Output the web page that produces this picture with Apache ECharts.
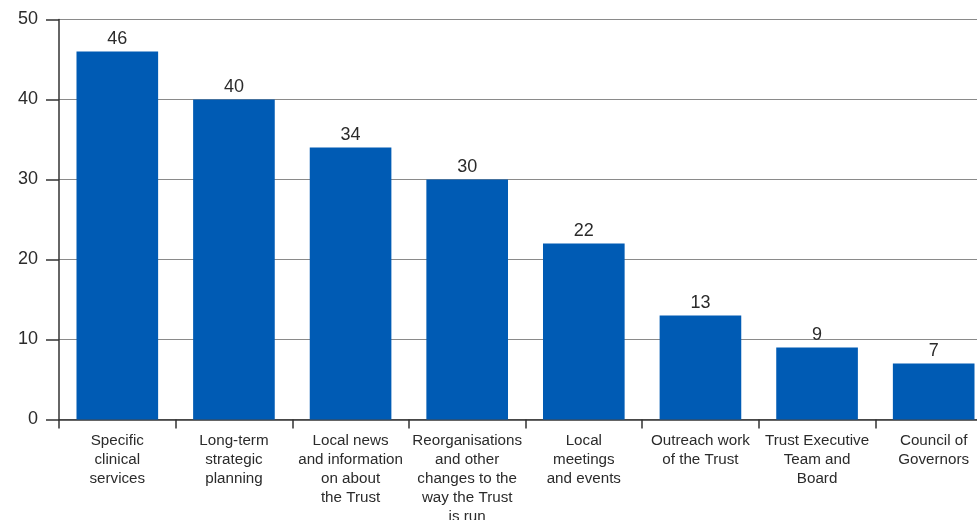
<!DOCTYPE html>
<html>
<head>
<meta charset="utf-8">
<script src="https://cdn.jsdelivr.net/npm/echarts@6/dist/echarts.min.js"></script>
<style>
  html, body { margin: 0; padding: 0; background: #fff; }
  #chart { width: 977px; height: 520px; }
</style>
</head>
<body>
<div id="chart"></div>
<script>
// Topics respondents wanted to hear more about (%)
const categories = [
  "Specific\nclinical\nservices",
  "Long-term\nstrategic\nplanning",
  "Local news\nand information\non about\nthe Trust",
  "Reorganisations\nand other\nchanges to the\nway the Trust\nis run",
  "Local\nmeetings\nand events",
  "Outreach work\nof the Trust",
  "Trust Executive\nTeam and\nBoard",
  "Council of\nGovernors"
];
const values = [46, 40, 34, 30, 22, 13, 9, 7];
const yTicks = { min: 0, max: 50, interval: 10 };

const font = "'Liberation Sans', Arial, Helvetica, sans-serif";
const textColor = "#2b2b2b";

const chart = echarts.init(document.getElementById('chart'), null, { renderer: 'canvas' });
chart.setOption({
  animation: false,
  grid: {
    left: 59, right: -15, top: 19.5, bottom: 100.5,
    containLabel: false,
    outerBoundsMode: 'none'
  },
  xAxis: {
    type: 'category',
    data: categories,
    axisLine: { show: true, lineStyle: { color: '#333', width: 1.5 } },
    axisTick: { show: true, length: 9, lineStyle: { color: '#333', width: 1.5 } },
    axisLabel: {
      interval: 0,
      margin: 12,
      color: textColor,
      fontFamily: font,
      fontSize: 15.2,
      lineHeight: 19,
      align: 'center'
    }
  },
  yAxis: {
    type: 'value',
    min: yTicks.min,
    max: yTicks.max,
    interval: yTicks.interval,
    axisLine: { show: true, lineStyle: { color: '#333', width: 1.5 } },
    axisTick: { show: true, inside: false, length: 13, lineStyle: { color: '#333', width: 1.5 } },
    axisLabel: { color: textColor, fontFamily: font, fontSize: 18, margin: 21 },
    splitLine: { show: true, lineStyle: { color: '#8a8a8a', width: 1.2 } }
  },
  series: [{
    type: 'bar',
    data: values,
    barWidth: '70%',
    itemStyle: { color: '#005bb4' },
    label: {
      show: true,
      position: 'top',
      distance: 3,
      color: textColor,
      fontFamily: font,
      fontSize: 18
    }
  }]
});
</script>
</body>
</html>
